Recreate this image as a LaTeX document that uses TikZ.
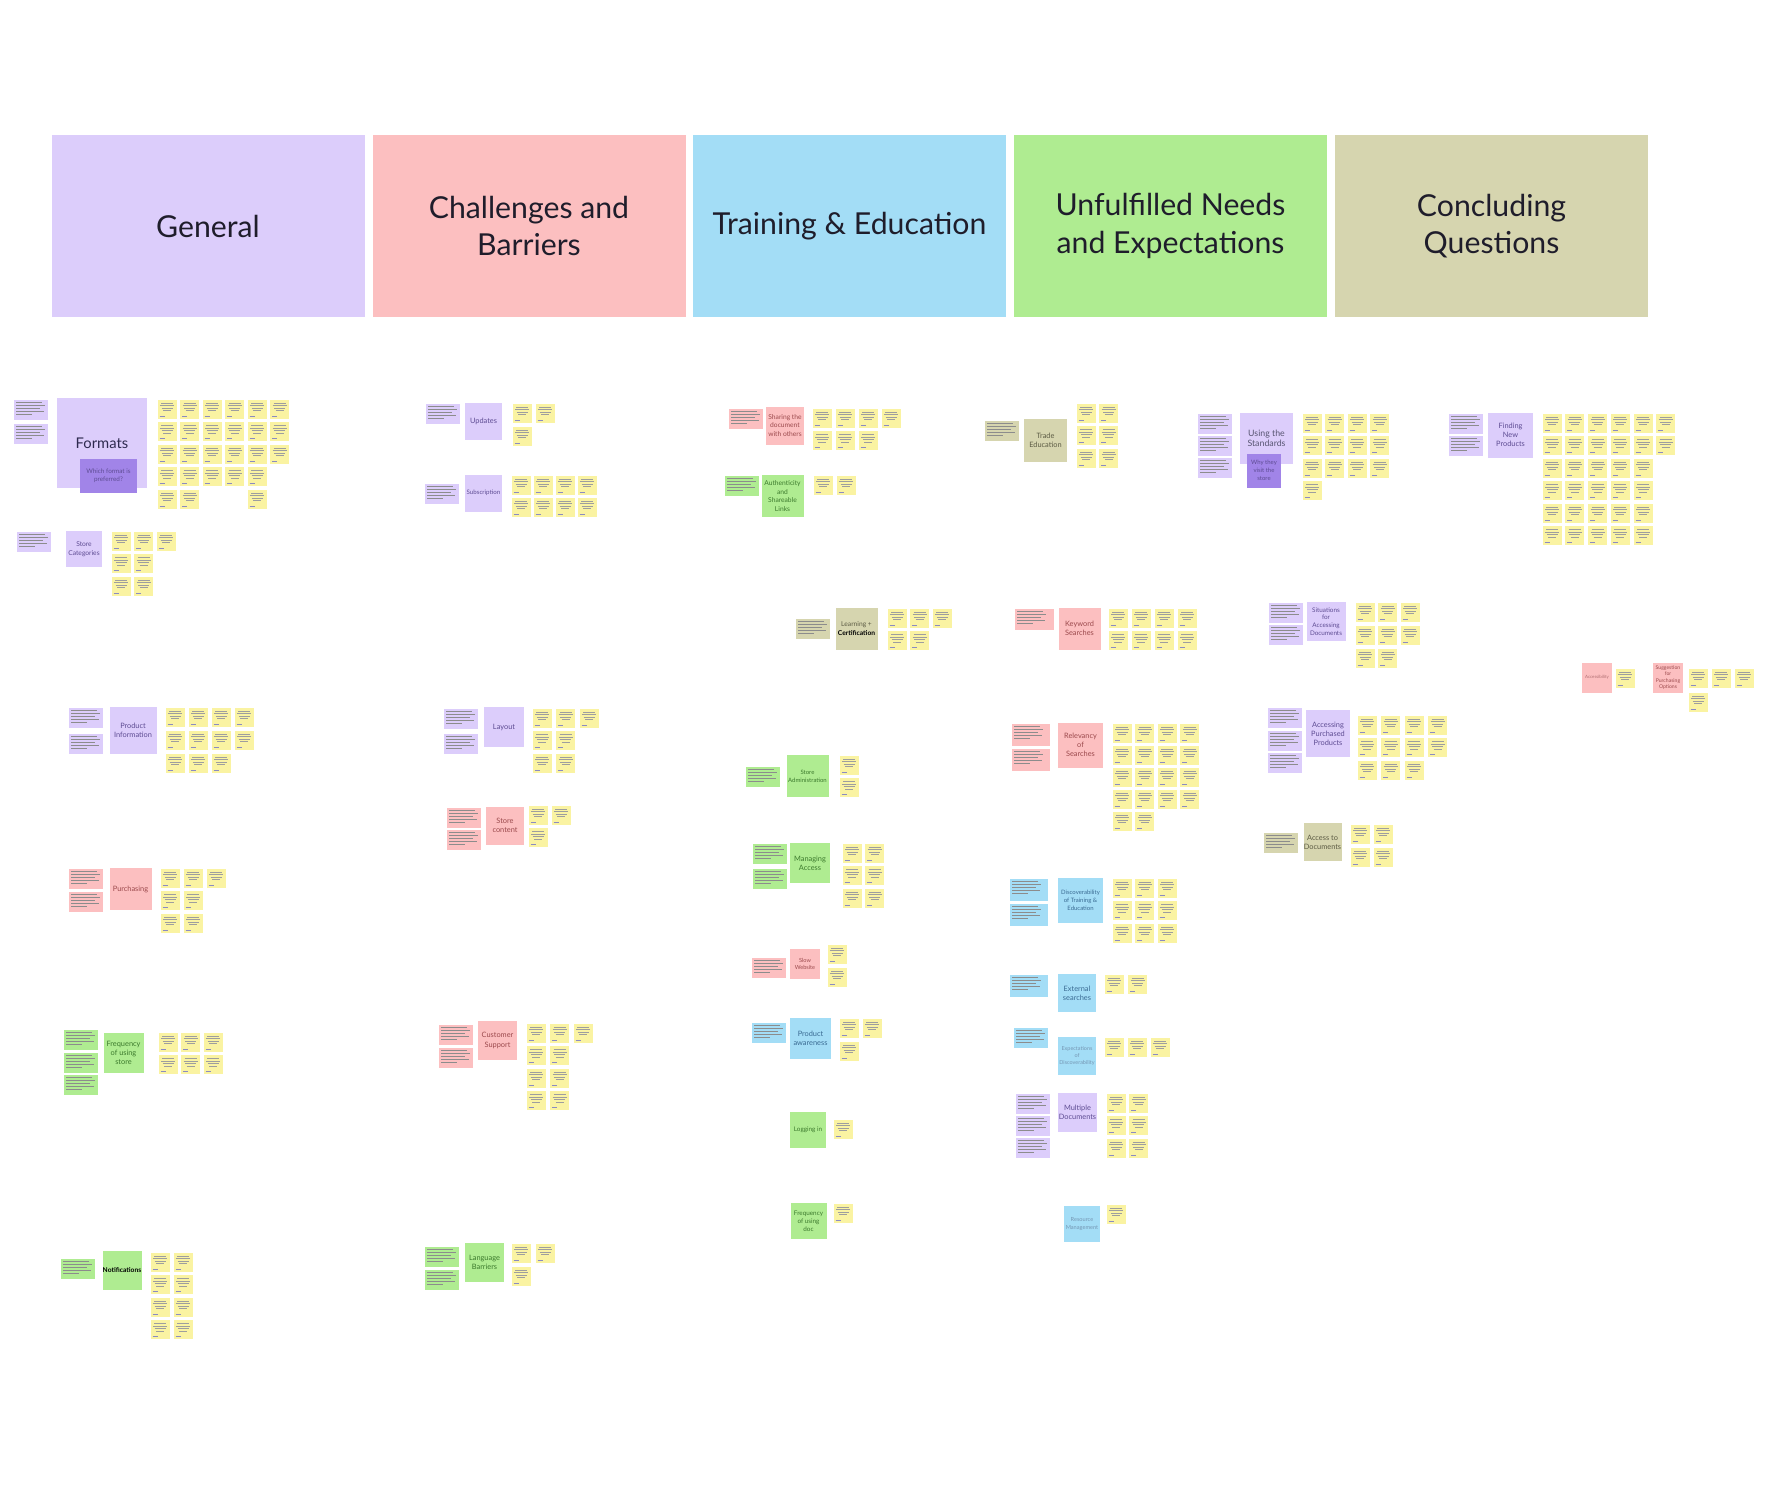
\documentclass[tikz,border=0pt]{standalone}
\usepackage{fontspec}
\setmainfont{Lato}
\definecolor{lav}{HTML}{DCCDFB}
\definecolor{lavdark}{HTML}{A184E8}
\definecolor{rose}{HTML}{FCBFC0}
\definecolor{sky}{HTML}{A3DDF6}
\definecolor{mint}{HTML}{AFEC91}
\definecolor{khaki}{HTML}{D6D5AF}
\definecolor{noteyellow}{HTML}{FAF3A2}
\definecolor{headtext}{HTML}{1F1D2B}
\definecolor{navy}{HTML}{2E2A4F}
\definecolor{lavtext}{HTML}{5E4C93}
\definecolor{rosetext}{HTML}{9C4A4D}
\definecolor{skytext}{HTML}{3A6B93}
\definecolor{minttext}{HTML}{3C7A2D}
\definecolor{khakitext}{HTML}{5C5B44}
\begin{document}
\begin{tikzpicture}[x=0.1mm, y=-0.1mm,
  header/.style={minimum width=31.3mm, minimum height=18.2mm, inner sep=0pt, align=center,
    text=headtext, font=\fontsize{8.6}{10.7}\selectfont},
  theme/.style={inner sep=0pt, align=center, font=\fontsize{2.1}{2.6}\selectfont},
  sq/.style={minimum width=#1, minimum height=#1},
  lavbox/.style={theme, fill=lav, text=lavtext},
  rosebox/.style={theme, fill=rose, text=rosetext},
  skybox/.style={theme, fill=sky, text=skytext},
  mintbox/.style={theme, fill=mint, text=minttext},
  khakibox/.style={theme, fill=khaki, text=khakitext},
  ctx/.style={anchor=north west, minimum width=3.4mm, minimum height=2mm, inner sep=0pt,
    path picture={
      \foreach \k/\w in {1/2.6,2/2.9,3/2.4,4/2.8,5/1.6}
        \draw[black!45, line width=0.22pt]
          ([xshift=0.25mm, yshift=-\k*0.3mm]path picture bounding box.north west) -- ++(\w*1mm,0);
    }},
  note/.style={anchor=north west, fill=noteyellow, minimum width=1.9mm, minimum height=1.9mm, inner sep=0pt,
    path picture={
      \foreach \k/\w in {1/0.6,2/0.7,3/0.55,4/0.4}
        \draw[black!38, line width=0.22pt]
          ([yshift=-0.1mm-\k*0.25mm]path picture bounding box.north) ++(-\w*1mm,0) -- ++(2*\w*1mm,0);
      \draw[blue!30!gray!70, line width=0.22pt]
          ([xshift=0.2mm, yshift=0.25mm]path picture bounding box.south west) -- ++(0.5mm,0);
    }}]
\fill[white] (0,0) rectangle (1788,1500);
\useasboundingbox (0,0) rectangle (1788,1500);

% headers
\node[header, fill=lav] (general) at (208,226) {General};
\node[header, fill=rose] (challenges) at (529,226) {Challenges and\\Barriers};
\node[header, fill=sky] (training) at (849.5,226) {Training \& Education};
\node[header, fill=mint] (unfulfilled) at (1170.5,226) {Unfulfilled Needs\\and Expectations};
\node[header, fill=khaki] (concluding) at (1491.5,226) {Concluding\\Questions};

%%% General
% Formats
\node[ctx, fill=lav] (fmtc1) at (13,399) {};
\node[ctx, fill=lav] (fmtc2) at (13,423) {};
\node[lavbox, sq=9mm, text=navy, font=\fontsize{4.2}{5}\selectfont] (formats) at (102,443) {Formats};
\node[theme, fill=lavdark, text=lavtext, minimum width=5.7mm, minimum height=3.4mm,
  font=\fontsize{1.8}{2.3}\selectfont] (fmtwhich) at (108.5,476) {Which format is\\preferred?};
\foreach \r/\n in {0/5,1/5,2/5,3/4}
  \foreach \c in {0,...,\n}
    \node[note] (fmt\c\r) at ({157+22.5*\c},{399+22.5*\r}) {};
\foreach \c in {0,1,4}
  \node[note] (fmt\c4) at ({157+22.5*\c},{399+22.5*4}) {};
% Store Categories
\node[ctx, fill=lav] (catc1) at (16,531) {};
\node[lavbox, sq=3.6mm, font=\fontsize{1.9}{2.4}\selectfont] (categories) at (84,549) {Store\\Categories};
\foreach \c/\r in {0/0,1/0,2/0,0/1,1/1,0/2,1/2}
  \node[note] (cat\c\r) at ({111+22.5*\c},{531+22.5*\r}) {};
% Product Information
\node[ctx, fill=lav] (infc1) at (68,707) {};
\node[ctx, fill=lav] (infc2) at (68,733) {};
\node[lavbox, sq=4.7mm] (information) at (133,730.5) {Product\\Information};
\foreach \c/\r in {0/0,1/0,2/0,3/0,0/1,1/1,2/1,3/1,0/2,1/2,2/2}
  \node[note] (inf\c\r) at ({165+23*\c},{707+23*\r}) {};
% Purchasing
\node[ctx, fill=rose] (purc1) at (68,868) {};
\node[ctx, fill=rose] (purc2) at (68,891) {};
\node[rosebox, sq=4.2mm] (purchasing) at (130.5,889) {Purchasing};
\foreach \c/\r in {0/0,1/0,2/0,0/1,1/1,0/2,1/2}
  \node[note] (pur\c\r) at ({160+23*\c},{868+22.5*\r}) {};
% Frequency of using store
\node[ctx, fill=mint] (frqc1) at (63,1029) {};
\node[ctx, fill=mint] (frqc2) at (63,1052) {};
\node[ctx, fill=mint] (frqc3) at (63,1074) {};
\node[mintbox, sq=4mm] (frequency) at (123.5,1053) {Frequency\\of using\\store};
\foreach \c/\r in {0/0,1/0,2/0,0/1,1/1,2/1}
  \node[note] (frq\c\r) at ({158+22.5*\c},{1032+22.5*\r}) {};
% Notifications
\node[ctx, fill=mint] (ntfc1) at (60,1258) {};
\node[mintbox, sq=3.9mm, text=black, font=\bfseries\fontsize{1.9}{2.4}\selectfont] (notifications) at (122,1270.5) {Notifications};
\foreach \c/\r in {0/0,1/0,0/1,1/1,0/2,1/2,0/3,1/3}
  \node[note] (ntf\c\r) at ({150+23*\c},{1252+22.5*\r}) {};

%%% Challenges and Barriers
% Updates
\node[ctx, fill=lav] (updc1) at (425,403) {};
\node[lavbox, sq=3.7mm] (updates) at (483.5,421) {Updates};
\foreach \c/\r in {0/0,1/0,0/1}
  \node[note] (upd\c\r) at ({512+23*\c},{403+23*\r}) {};
% Subscription
\node[ctx, fill=lav] (subc1) at (424,483) {};
\node[lavbox, sq=3.7mm, font=\fontsize{1.75}{2.2}\selectfont] (subscription) at (483.5,493) {Subscription};
\foreach \c/\r in {0/0,1/0,2/0,3/0,0/1,1/1,2/1,3/1}
  \node[note] (sub\c\r) at ({511+22*\c},{475+22*\r}) {};
% Layout
\node[ctx, fill=lav] (layc1) at (443,708) {};
\node[ctx, fill=lav] (layc2) at (443,733) {};
\node[lavbox, sq=4mm] (layout) at (504,727) {Layout};
\foreach \c/\r in {0/0,1/0,2/0,0/1,1/1,0/2,1/2}
  \node[note] (lay\c\r) at ({532+23.5*\c},{708+22.5*\r}) {};
% Store content
\node[ctx, fill=rose] (cntc1) at (446,807) {};
\node[ctx, fill=rose] (cntc2) at (446,829) {};
\node[rosebox, sq=3.8mm] (content) at (505,825.5) {Store\\content};
\foreach \c/\r in {0/0,1/0,0/1}
  \node[note] (cnt\c\r) at ({528+23*\c},{805+22.5*\r}) {};
% Customer Support
\node[ctx, fill=rose] (supc1) at (438,1024) {};
\node[ctx, fill=rose] (supc2) at (438,1047) {};
\node[rosebox, sq=3.9mm] (support) at (497.5,1040.5) {Customer\\Support};
\foreach \c/\r in {0/0,1/0,2/0,0/1,1/1,0/2,1/2,0/3,1/3}
  \node[note] (sup\c\r) at ({526+23.5*\c},{1023+22.5*\r}) {};
% Language Barriers
\node[ctx, fill=mint] (lngc1) at (424,1246) {};
\node[ctx, fill=mint] (lngc2) at (424,1269) {};
\node[mintbox, sq=3.9mm] (language) at (484.5,1262.5) {Language\\Barriers};
\foreach \c/\r in {0/0,1/0,0/1}
  \node[note] (lng\c\r) at ({511+24*\c},{1243+23*\r}) {};

%%% Training & Education
% Sharing the document with others
\node[ctx, fill=rose] (shrc1) at (728,408) {};
\node[rosebox, sq=3.8mm, font=\fontsize{1.9}{2.4}\selectfont] (sharing) at (785,425.5) {Sharing the\\document\\with others};
\foreach \c/\r in {0/0,1/0,2/0,3/0,0/1,1/1,2/1}
  \node[note] (shr\c\r) at ({812+23*\c},{408+22.5*\r}) {};
% Authenticity and Shareable Links
\node[ctx, fill=mint] (autc1) at (724,475) {};
\node[mintbox, sq=4.2mm, font=\fontsize{1.9}{2.4}\selectfont] (authenticity) at (782.5,496) {Authenticity\\and\\Shareable\\Links};
\foreach \c/\r in {0/0,1/0}
  \node[note] (aut\c\r) at ({813+23*\c},{475+22.5*\r}) {};
% Learning + Certification
\node[ctx, fill=khaki] (lrnc1) at (795,618) {};
\node[khakibox, sq=4.2mm, font=\fontsize{1.9}{2.4}\selectfont] (learning) at (856.5,628.5) {Learning +\\\textcolor{black}{\textbf{Certification}}};
\foreach \c/\r in {0/0,1/0,2/0,0/1,1/1}
  \node[note] (lrn\c\r) at ({887+22.5*\c},{608+22.5*\r}) {};
% Store Administration
\node[ctx, fill=mint] (admc1) at (745,766) {};
\node[mintbox, sq=4.2mm, font=\fontsize{1.7}{2.2}\selectfont] (administration) at (807.5,776) {Store\\Administration};
\foreach \c/\r in {0/0,0/1}
  \node[note] (adm\c\r) at ({839+23*\c},{755+22.5*\r}) {};
% Managing Access
\node[ctx, fill=mint] (accc1) at (752,843) {};
\node[ctx, fill=mint] (accc2) at (752,868) {};
\node[mintbox, sq=4mm] (managing) at (810,863) {Managing\\Access};
\foreach \c/\r in {0/0,1/0,0/1,1/1,0/2,1/2}
  \node[note] (acc\c\r) at ({842+22.5*\c},{843+22.5*\r}) {};
% Slow Website
\node[ctx, fill=rose] (slwc1) at (751,957) {};
\node[rosebox, sq=3mm, font=\fontsize{1.6}{2}\selectfont] (slow) at (805,964) {Slow\\Website};
\foreach \c/\r in {0/0,0/1}
  \node[note] (slw\c\r) at ({827+23*\c},{944+23*\r}) {};
% Product awareness
\node[ctx, fill=sky] (awrc1) at (751,1022) {};
\node[skybox, sq=4.1mm] (awareness) at (810.5,1038.5) {Product\\awareness};
\foreach \c/\r in {0/0,1/0,0/1}
  \node[note] (awr\c\r) at ({839+23*\c},{1018+23*\r}) {};
% Logging in
\node[mintbox, sq=3.6mm, font=\fontsize{1.8}{2.3}\selectfont] (logging) at (808,1129.5) {Logging in};
\node[note] (log00) at (833,1119) {};
% Frequency of using doc
\node[mintbox, sq=3.6mm, font=\fontsize{1.8}{2.3}\selectfont] (docfreq) at (808.5,1221) {Frequency\\of using\\doc};
\node[note] (dfq00) at (833,1203) {};

%%% Unfulfilled Needs and Expectations
% Trade Education
\node[ctx, fill=khaki] (trdc1) at (984,420) {};
\node[khakibox, sq=4.3mm] (trade) at (1045.5,440.5) {Trade\\Education};
\foreach \c/\r in {0/0,1/0,0/1,1/1,0/2,1/2}
  \node[note] (trd\c\r) at ({1076+22.5*\c},{403+22.5*\r}) {};
% Keyword Searches
\node[ctx, fill=rose, minimum width=3.9mm, minimum height=2.1mm] (kwdc1) at (1014,608) {};
\node[rosebox, sq=4.2mm] (keyword) at (1079.5,628.5) {Keyword\\Searches};
\foreach \c/\r in {0/0,1/0,2/0,3/0,0/1,1/1,2/1,3/1}
  \node[note] (kwd\c\r) at ({1108+23*\c},{608+22.5*\r}) {};
% Relevancy of Searches
\node[ctx, fill=rose, minimum width=3.8mm, minimum height=2.2mm] (relc1) at (1011,723) {};
\node[ctx, fill=rose, minimum width=3.8mm, minimum height=2.2mm] (relc2) at (1011,748) {};
\node[rosebox, sq=4.5mm] (relevancy) at (1080.5,745) {Relevancy\\of\\Searches};
\foreach \r in {0,1,2,3}
  \foreach \c in {0,...,3}
    \node[note] (rel\c\r) at ({1112+22.5*\c},{723+22*\r}) {};
\foreach \c in {0,1}
  \node[note] (rel\c4) at ({1112+22.5*\c},{723+22*4}) {};
% Discoverability of Training & Education
\node[ctx, fill=sky, minimum width=3.8mm, minimum height=2.2mm] (dscc1) at (1009,878) {};
\node[ctx, fill=sky, minimum width=3.8mm, minimum height=2.2mm] (dscc2) at (1009,903) {};
\node[skybox, sq=4.5mm, font=\fontsize{1.7}{2.2}\selectfont] (discoverability) at (1080.5,900.5) {Discoverability\\of Training \&\\Education};
\foreach \r in {0,1,2}
  \foreach \c in {0,1,2}
    \node[note] (dsc\c\r) at ({1112+22.5*\c},{878+22.5*\r}) {};
% External searches
\node[ctx, fill=sky, minimum width=3.8mm, minimum height=2.2mm] (extc1) at (1009,974) {};
\node[skybox, sq=3.8mm] (external) at (1077,993) {External\\searches};
\foreach \c/\r in {0/0,1/0}
  \node[note] (ext\c\r) at ({1104+23.5*\c},{974+22.5*\r}) {};
% Expectations of Discoverability
\node[ctx, fill=sky] (expc1) at (1013,1027) {};
\node[skybox, sq=3.8mm, text=skytext!70, font=\fontsize{1.55}{2}\selectfont] (expectations) at (1077,1055.5) {Expectations\\of\\Discoverability};
\foreach \c/\r in {0/0,1/0,2/0}
  \node[note] (exp\c\r) at ({1104+23*\c},{1037+22.5*\r}) {};
% Multiple Documents
\node[ctx, fill=lav] (mulc1) at (1015,1093) {};
\node[ctx, fill=lav] (mulc2) at (1015,1115) {};
\node[ctx, fill=lav] (mulc3) at (1015,1137) {};
\node[lavbox, sq=3.9mm] (multiple) at (1077.5,1112.5) {Multiple\\Documents};
\foreach \c/\r in {0/0,1/0,0/1,1/1,0/2,1/2}
  \node[note] (mul\c\r) at ({1106+22.5*\c},{1093+22.5*\r}) {};
% Resource Management
\node[skybox, sq=3.6mm, text=skytext!70, font=\fontsize{1.6}{2}\selectfont] (resource) at (1082,1224) {Resource\\Management};
\node[note] (res00) at (1106,1204) {};
% Using the Standards
\node[ctx, fill=lav] (stdc1) at (1197,413) {};
\node[ctx, fill=lav] (stdc2) at (1197,435) {};
\node[ctx, fill=lav] (stdc3) at (1197,457) {};
\node[lavbox, minimum width=5.3mm, minimum height=5.1mm, text=navy!80, font=\fontsize{2.5}{3}\selectfont] (standards) at (1266.5,438.5) {Using the\\Standards};
\node[theme, fill=lavdark, text=lavtext, sq=3.4mm, font=\fontsize{1.7}{2.2}\selectfont] (stdwhy) at (1264,470.5) {Why they\\visit the\\store};
\foreach \r in {0,1,2}
  \foreach \c in {0,...,3}
    \node[note] (std\c\r) at ({1302+22.5*\c},{413+22.5*\r}) {};
\node[note] (std03) at (1302,480.5) {};
% Situations for Accessing Documents
\node[ctx, fill=lav] (sitc1) at (1268,602) {};
\node[ctx, fill=lav] (sitc2) at (1268,624) {};
\node[lavbox, sq=3.9mm, font=\fontsize{1.8}{2.2}\selectfont] (situations) at (1326,621.5) {Situations\\for\\Accessing\\Documents};
\foreach \c/\r in {0/0,1/0,2/0,0/1,1/1,2/1,0/2,1/2}
  \node[note] (sit\c\r) at ({1355+22.5*\c},{602+23*\r}) {};
% Accessing Purchased Products
\node[ctx, fill=lav] (purpc1) at (1267,707) {};
\node[ctx, fill=lav] (purpc2) at (1267,730) {};
\node[ctx, fill=lav] (purpc3) at (1267,752) {};
\node[lavbox, minimum width=4.4mm, minimum height=4.7mm] (accessing) at (1328,733.5) {Accessing\\Purchased\\Products};
\foreach \c/\r in {0/0,1/0,2/0,3/0,0/1,1/1,2/1,3/1,0/2,1/2,2/2}
  \node[note] (purp\c\r) at ({1357+23.5*\c},{715+22.5*\r}) {};
% Access to Documents
\node[ctx, fill=khaki] (docc1) at (1263,832) {};
\node[khakibox, sq=3.8mm] (access) at (1322.5,842) {Access to\\Documents};
\foreach \c/\r in {0/0,1/0,0/1,1/1}
  \node[note] (doc\c\r) at ({1350+23*\c},{824+23*\r}) {};

%%% Concluding Questions
% Finding New Products
\node[ctx, fill=lav] (fndc1) at (1448,413) {};
\node[ctx, fill=lav] (fndc2) at (1448,435) {};
\node[lavbox, sq=4.5mm] (finding) at (1510.5,435) {Finding\\New\\Products};
\foreach \r/\n in {0/5,1/5,2/4,3/4,4/4,5/4}
  \foreach \c in {0,...,\n}
    \node[note] (fnd\c\r) at ({1542+22.7*\c},{413+22.5*\r}) {};
% Accessibility
\node[rosebox, sq=3mm, text=rosetext!80, font=\fontsize{1.25}{1.6}\selectfont] (accessibility) at (1597,677.5) {Accessibility};
\node[note] (acs00) at (1615,668) {};
% Suggestion for Purchasing Options
\node[rosebox, sq=3mm, font=\fontsize{1.45}{1.85}\selectfont] (suggestion) at (1668,677.5) {Suggestion\\for\\Purchasing\\Options};
\foreach \c/\r in {0/0,1/0,2/0,0/1}
  \node[note] (sug\c\r) at ({1688+23*\c},{668+24*\r}) {};
\end{tikzpicture}
\end{document}
